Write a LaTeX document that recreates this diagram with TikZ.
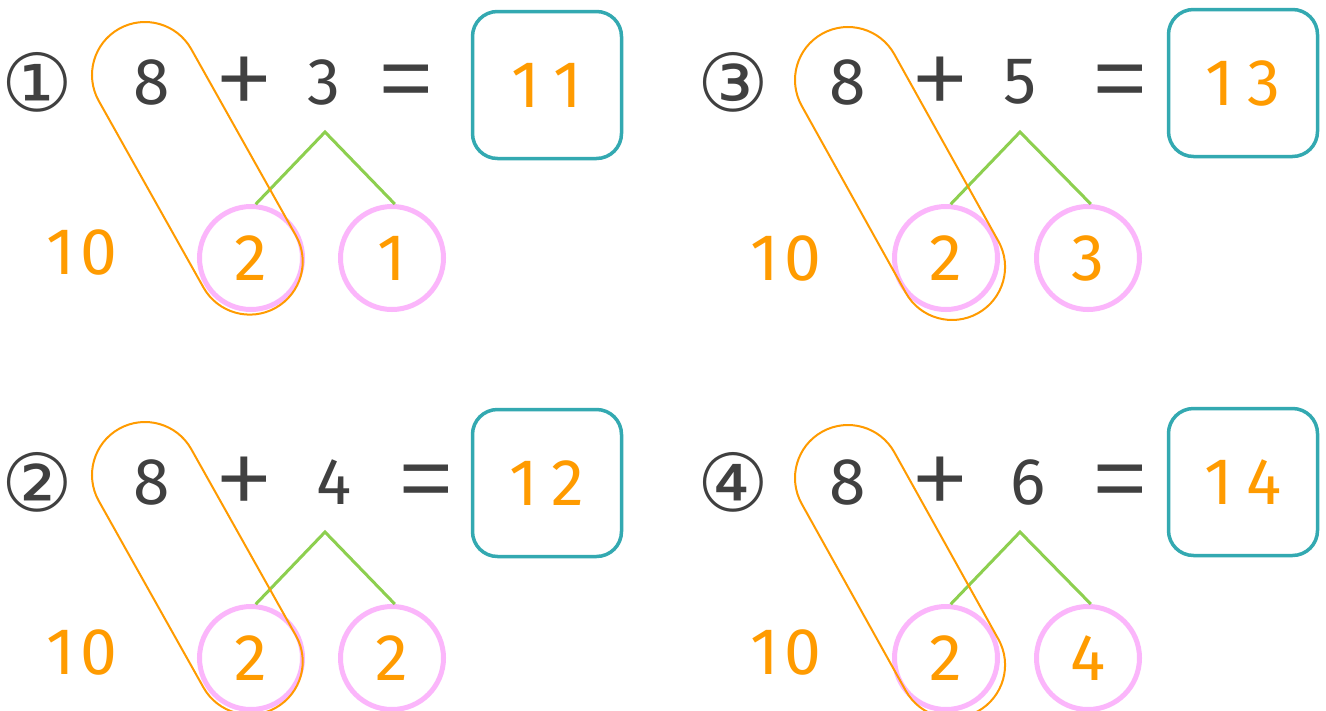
\documentclass[tikz,border=0pt]{standalone}
\usepackage{fontspec}
\setmainfont{Fira Sans}
\newfontfamily\opfont{Fira Sans Light}
\newfontfamily\circfont{DejaVu Sans}
\definecolor{ink}{HTML}{404040}
\definecolor{ora}{HTML}{FF9B00}
\definecolor{tealb}{HTML}{33A9B1}
\definecolor{pinkc}{HTML}{FBB6FB}
\definecolor{grn}{HTML}{8DCF4F}
\begin{document}
\begin{tikzpicture}[x=1pt,y=-1pt,
  num/.style={font=\fontsize{66}{66}\selectfont, text=ink, inner sep=0pt},
  op/.style={font=\opfont\fontsize{125}{125}\selectfont, text=ink, inner sep=0pt, anchor=base, yshift=-38pt},
  onum/.style={num, text=ora},
  cnum/.style={font=\circfont\fontsize{80}{80}\selectfont, text=ink, inner sep=0pt},
  ring/.style={onum, circle, draw=pinkc, line width=5pt, minimum size=103pt},
  ansbox/.style={onum, draw=tealb, line width=3.5pt, rounded corners=25pt, minimum width=149pt, minimum height=147pt},
  split/.style={draw=grn, line width=3pt},
  loopline/.style={draw=ora, line width=2pt}]
\useasboundingbox (0,0) rectangle (1326,710);
\fill[white] (0,0) rectangle (1326,710);

% ---------- panel 1 ----------
\node[cnum] (n1) at (37,82) {①};
\node[num] (a1) at (152,82) {8};
\node[op] (p1) at (244,82) {+};
\node[num] (b1) at (324,82) {3};
\node[op] (e1) at (406,82) {=};
\node[ansbox] (r1) at (547,85) {1\kern14pt1};
\coordinate (t1) at (325,132);
\node[onum] (ten1) at (82,252) {1\kern6pt0};
\node[ring] (ca1) at (251,258) {2};
\node[ring] (cb1) at (392,258) {1};
\draw[split] (ca1.85) -- (t1) -- (cb1.87);
\draw[loopline, shift={(145,75)}, rotate=-60.7]
  (0,53) -- (214,53) arc[start angle=90, end angle=-90, radius=53]
  -- (0,-53) arc[start angle=270, end angle=90, radius=53] -- cycle;

% ---------- panel 2 ----------
\node[cnum] (n2) at (37,482) {②};
\node[num] (a2) at (152,482) {8};
\node[op] (p2) at (244,482) {+};
\node[num] (b2) at (334,482) {4};
\node[op] (e2) at (426,482) {=};
\node[ansbox] (r2) at (547,483) {1\kern14pt2};
\coordinate (t2) at (325,532);
\node[onum] (ten2) at (82,652) {1\kern6pt0};
\node[ring] (ca2) at (251,658) {2};
\node[ring] (cb2) at (392,658) {2};
\draw[split] (ca2.85) -- (t2) -- (cb2.87);
\draw[loopline, shift={(145,475)}, rotate=-60.7]
  (0,53) -- (214,53) arc[start angle=90, end angle=-90, radius=53]
  -- (0,-53) arc[start angle=270, end angle=90, radius=53] -- cycle;

% ---------- panel 3 ----------
\node[cnum] (n3) at (733,82) {③};
\node[num] (a3) at (848,82) {8};
\node[op] (p3) at (940,82) {+};
\node[num] (b3) at (1020,82) {5};
\node[op] (e3) at (1120,82) {=};
\node[ansbox] (r3) at (1243,83) {1\kern14pt3};
\coordinate (t3) at (1020,132);
\node[onum] (ten3) at (786,258) {1\kern6pt0};
\node[ring] (ca3) at (946,258) {2};
\node[ring] (cb3) at (1088,258) {3};
\draw[split] (ca3.85) -- (t3) -- (cb3.87);
\draw[loopline, shift={(848,80)}, rotate=-60.9]
  (0,53) -- (214,53) arc[start angle=90, end angle=-90, radius=53]
  -- (0,-53) arc[start angle=270, end angle=90, radius=53] -- cycle;

% ---------- panel 4 ----------
\node[cnum] (n4) at (733,482) {④};
\node[num] (a4) at (848,482) {8};
\node[op] (p4) at (940,482) {+};
\node[num] (b4) at (1028,482) {6};
\node[op] (e4) at (1120,482) {=};
\node[ansbox] (r4) at (1243,482) {1\kern14pt4};
\coordinate (t4) at (1020,532);
\node[onum] (ten4) at (786,652) {1\kern6pt0};
\node[ring] (ca4) at (946,658) {2};
\node[ring] (cb4) at (1088,658) {4};
\draw[split] (ca4.85) -- (t4) -- (cb4.87);
\draw[loopline, shift={(848,478)}, rotate=-60.9]
  (0,53) -- (214,53) arc[start angle=90, end angle=-90, radius=53]
  -- (0,-53) arc[start angle=270, end angle=90, radius=53] -- cycle;
\end{tikzpicture}
\end{document}
